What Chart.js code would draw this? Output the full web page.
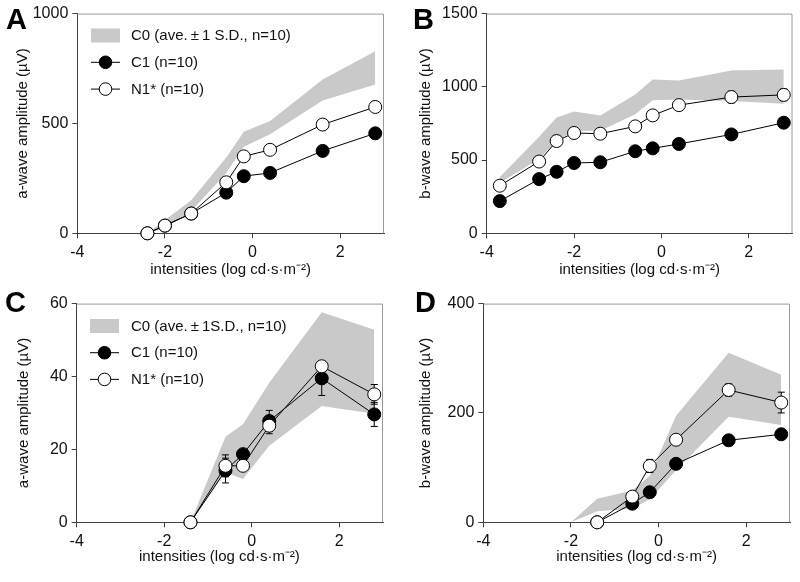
<!DOCTYPE html>
<html>
<head>
<meta charset="utf-8">
<title>ERG amplitudes</title>
<script src="https://cdn.jsdelivr.net/npm/chart.js@4.4.1/dist/chart.umd.min.js"></script>
<style>
  body { margin: 0; background: #fff; }
  #wrap { position: relative; width: 800px; height: 582px; overflow: hidden; }
  canvas { position: absolute; }
</style>
</head>
<body>
<div id="wrap">
  <canvas id="chartA" width="400" height="290" style="left:0;top:0"></canvas>
  <canvas id="chartB" width="400" height="290" style="left:400px;top:0"></canvas>
  <canvas id="chartC" width="400" height="292" style="left:0;top:290px"></canvas>
  <canvas id="chartD" width="400" height="292" style="left:400px;top:290px"></canvas>
</div>
<script>
// ---- data ----
const xTicks = [-4, -2, 0, 2];

// A: a-wave
const intensitiesA = [-2.4, -2.0, -1.4, -0.6, -0.2, 0.4, 1.6, 2.8];
const c0UpperA = [0, 60, 150, 345, 462, 511, 700, 829];
const c0LowerA = [0, 25, 100, 275, 394, 451, 605, 677];
const c1A = [0, 35, 90, 185, 260, 275, 375, 455];
const n1A = [0, 35, 90, 232, 350, 380, 495, 575];
const yTicksA = [0, 500, 1000];

// B: b-wave
const intensitiesB = [-3.7, -2.8, -2.4, -2.0, -1.4, -0.6, -0.2, 0.4, 1.6, 2.8];
const c0UpperB = [385, 660, 790, 832, 804, 948, 1050, 1043, 1111, 1118];
const c0LowerB = [345, 507, 631, 699, 700, 812, 908, 914, 903, 885];
const c1B = [220, 370, 420, 480, 485, 560, 580, 610, 675, 755];
const n1B = [325, 490, 630, 685, 680, 730, 805, 875, 930, 945];
const n1ErrB = [0, 0, 0, 0, 0, 0, 0, 0, 40, 40];
const yTicksB = [0, 500, 1000, 1500];

// C: a-wave
const intensitiesC = [-1.4, -0.6, -0.2, 0.4, 1.6, 2.8];
const c0UpperC = [0, 23.5, 26.9, 38.3, 57.6, 52.8];
const c0LowerC = [0, 13.7, 11.9, 21, 31.9, 29.8];
const c1C = [0, 14.2, 18.7, 27.8, 39.5, 29.6];
const c1ErrC = [0, 3.4, 1, 2.9, 4.7, 3.3];
const n1C = [0, 15.5, 15.5, 26.5, 42.8, 35.1];
const n1ErrC = [0, 3, 1, 2.2, 1.2, 2.7];
const yTicksC = [0, 20, 40, 60];

// D: b-wave
const c0IntensitiesD = [-2.0, -1.4, -0.6, -0.2, 0.4, 1.6, 2.8];
const c0UpperD = [0, 43, 58, 85, 195, 310, 270];
const c0LowerD = [0, 20, 25, 42, 95, 193, 178];
const intensitiesD = [-1.4, -0.6, -0.2, 0.4, 1.6, 2.8];
const c1D = [0, 34, 55, 107, 150, 161];
const c1ErrD = [0, 3, 4, 5, 6, 9];
const n1D = [0, 47, 103, 151, 242, 219];
const n1ErrD = [0, 4, 12, 6, 11, 19];
const yTicksD = [0, 200, 400];

// thin spaces around the plus-minus, it sits wide in the original
const legendLabels = ['C0 (ave.\u2009\u00b1\u20091 S.D., n=10)', 'C1 (n=10)', 'N1* (n=10)'];
const legendLabelsC = ['C0 (ave.\u2009\u00b1\u20091S.D., n=10)', 'C1 (n=10)', 'N1* (n=10)'];

const xTitle = 'intensities (log cd\u00b7s\u00b7m\u207b\u00b2)';

// ---- styling ----
const FONT = '"Liberation Sans", Arial, Helvetica, sans-serif';
const INK = '#111';
const AXIS = '#404040';
const BAND = '#c9c9c9';

const toXY = (xs, ys) => xs.map((x, i) => ({ x: x, y: ys[i] }));

// error bars go under the markers of their own series
const errorBars = {
  id: 'errorBars',
  beforeDatasetDraw(chart, args) {
    const ds = chart.data.datasets[args.index];
    if (!ds.errors) return;
    const yScale = chart.scales.y;
    const ctx = chart.ctx;
    ctx.save();
    ctx.strokeStyle = '#000';
    ctx.lineWidth = 1;
    args.meta.data.forEach((pt, i) => {
      const err = ds.errors[i];
      if (!err) return;
      const v = ds.data[i].y;
      const top = yScale.getPixelForValue(v + err);
      const bot = yScale.getPixelForValue(v - err);
      ctx.beginPath();
      ctx.moveTo(pt.x, top); ctx.lineTo(pt.x, bot);
      ctx.moveTo(pt.x - 3.5, top); ctx.lineTo(pt.x + 3.5, top);
      ctx.moveTo(pt.x - 3.5, bot); ctx.lineTo(pt.x + 3.5, bot);
      ctx.stroke();
    });
    ctx.restore();
  }
};

// light top/right frame + panel letter + legend
const panelDecor = {
  id: 'panelDecor',
  beforeDatasetsDraw(chart) {
    const { ctx, chartArea: a } = chart;
    ctx.save();
    ctx.strokeStyle = '#9a9a9a';
    ctx.lineWidth = 1;
    ctx.beginPath();
    ctx.moveTo(a.left, a.top + 0.5);
    ctx.lineTo(a.right - 0.5, a.top + 0.5);
    ctx.lineTo(a.right - 0.5, a.bottom);
    ctx.stroke();
    ctx.restore();
  },
  afterDraw(chart, args, opts) {
    const ctx = chart.ctx;
    ctx.save();
    ctx.fillStyle = '#000';
    ctx.font = 'bold 29px ' + FONT;
    ctx.textBaseline = 'alphabetic';
    ctx.fillText(opts.letter, opts.letterX, opts.letterY);

    if (opts.legend) {
      const lg = opts.legend;
      ctx.font = '15px ' + FONT;
      ctx.textBaseline = 'middle';
      lg.labels.forEach((label, i) => {
        const y = lg.y + i * lg.gap;
        if (i === 0) {
          ctx.fillStyle = BAND;
          ctx.fillRect(lg.x, y - 7, 29, 14);
        } else {
          ctx.strokeStyle = '#000';
          ctx.lineWidth = 1;
          ctx.beginPath();
          ctx.moveTo(lg.x, y);
          ctx.lineTo(lg.x + 29, y);
          ctx.stroke();
          ctx.beginPath();
          ctx.arc(lg.x + 14.5, y, 6.3, 0, Math.PI * 2);
          ctx.fillStyle = i === 1 ? '#000' : '#fff';
          ctx.fill();
          ctx.stroke();
        }
        ctx.fillStyle = INK;
        ctx.fillText(label, lg.textX, y + 0.5);
      });
    }
    ctx.restore();
  }
};

function seriesSet(c0x, up, lo, xs, c1, n1, c1Err, n1Err) {
  const marker = (fill) => ({
    showLine: true,
    borderColor: '#000',
    borderWidth: 1,
    pointRadius: 6.5,
    pointBorderWidth: 1,
    pointBorderColor: '#000',
    pointBackgroundColor: fill,
    fill: false,
    clip: false,
    tension: 0
  });
  return [
    { label: 'C0 upper', data: toXY(c0x, up), borderWidth: 0, pointRadius: 0,
      backgroundColor: BAND, fill: '+1', order: 3, clip: false },
    { label: 'C0 lower', data: toXY(c0x, lo), borderWidth: 0, pointRadius: 0,
      fill: false, order: 3, clip: false },
    Object.assign(marker('#000'), { label: 'C1', data: toXY(xs, c1), errors: c1Err, order: 2 }),
    Object.assign(marker('#fff'), { label: 'N1*', data: toXY(xs, n1), errors: n1Err, order: 1 })
  ];
}

function makePanel(id, p) {
  const tickFont = { family: FONT, size: 16 };
  const titleFont = { family: FONT, size: 15 };
  new Chart(document.getElementById(id), {
    type: 'line',
    data: { datasets: p.datasets },
    options: {
      responsive: false,
      animation: false,
      events: [],
      layout: { padding: { top: 12.3, right: p.padRight, left: 0, bottom: 0 } },
      plugins: {
        legend: { display: false },
        tooltip: { enabled: false },
        panelDecor: { letter: p.letter, letterX: p.letterX, letterY: p.letterY, legend: p.legend }
      },
      scales: {
        x: {
          type: 'linear',
          min: -4,
          max: 3,
          afterBuildTicks: (s) => { s.ticks = xTicks.map(v => ({ value: v })); },
          afterFit: (s) => { s.height = p.xHeight; },
          grid: { drawOnChartArea: false, tickLength: 5, color: AXIS },
          border: { color: AXIS, width: 1 },
          ticks: { font: tickFont, color: INK, padding: 5, maxRotation: 0,
                   callback: (v) => String(v) },
          title: { display: true, text: p.xTitle || xTitle,
                   font: titleFont, color: INK, padding: { top: 0, bottom: p.xTitlePad } }
        },
        y: {
          min: p.yTicks[0],
          max: p.yTicks[p.yTicks.length - 1],
          afterBuildTicks: (s) => { s.ticks = p.yTicks.map(v => ({ value: v })); },
          afterFit: (s) => { s.width = p.yWidth; },
          grid: { drawOnChartArea: false, tickLength: 5, color: AXIS },
          border: { color: AXIS, width: 1 },
          ticks: { font: tickFont, color: INK, padding: 4, callback: (v) => String(v) },
          title: { display: true, text: p.yTitle, font: titleFont, color: INK,
                   padding: { top: p.yTitlePad, bottom: 0 } }
        }
      }
    },
    plugins: [errorBars, panelDecor]
  });
}

const noErr = (n) => new Array(n).fill(0);

makePanel('chartA', {
  datasets: seriesSet(intensitiesA, c0UpperA, c0LowerA, intensitiesA, c1A, n1A,
                      noErr(intensitiesA.length), noErr(intensitiesA.length)),
  yTicks: yTicksA, yTitle: 'a-wave amplitude (\u00b5V)',
  yWidth: 77.3, padRight: 16, xHeight: 56.7, xTitlePad: 11.5, yTitlePad: 13.5,
  letter: 'A', letterX: 6, letterY: 28.5,
  legend: { labels: legendLabels, x: 91, y: 35.5, gap: 26.8, textX: 131 }
});

makePanel('chartB', {
  datasets: seriesSet(intensitiesB, c0UpperB, c0LowerB, intensitiesB, c1B, n1B,
                      noErr(intensitiesB.length), n1ErrB),
  yTicks: yTicksB, yTitle: 'b-wave amplitude (\u00b5V)',
  yWidth: 86.7, padRight: 7, xHeight: 56.7, xTitlePad: 11.5, yTitlePad: 17,
  letter: 'B', letterX: 13, letterY: 28.5
});

// panel C's axis title sits a little left of centre in the original
makePanel('chartC', {
  datasets: seriesSet(intensitiesC, c0UpperC, c0LowerC, intensitiesC, c1C, n1C, c1ErrC, n1ErrC),
  yTicks: yTicksC, yTitle: 'a-wave amplitude (\u00b5V)',
  xTitle: xTitle + '     ',
  yWidth: 76.7, padRight: 17, xHeight: 59.7, xTitlePad: 15.7, yTitlePad: 15,
  letter: 'C', letterX: 5, letterY: 21.5,
  legend: { labels: legendLabelsC, x: 90, y: 36, gap: 26.7, textX: 131 }
});

makePanel('chartD', {
  datasets: seriesSet(c0IntensitiesD, c0UpperD, c0LowerD, intensitiesD, c1D, n1D, c1ErrD, n1ErrD),
  yTicks: yTicksD, yTitle: 'b-wave amplitude (\u00b5V)',
  yWidth: 83.3, padRight: 10, xHeight: 59.7, xTitlePad: 15.7, yTitlePad: 17,
  letter: 'D', letterX: 15, letterY: 21.5
});
</script>
</body>
</html>
